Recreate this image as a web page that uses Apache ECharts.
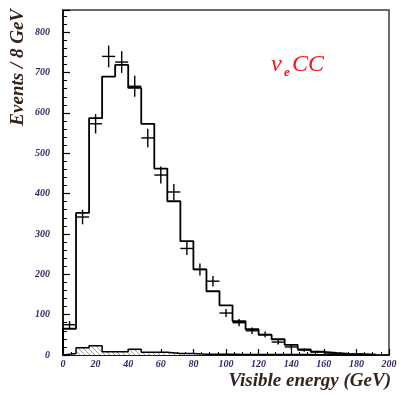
<!DOCTYPE html>
<html>
<head>
<meta charset="utf-8">
<script src="https://cdn.jsdelivr.net/npm/echarts@6/dist/echarts.min.js"></script>
<style>
  html, body { margin: 0; padding: 0; background: #fff; }
  #chart { width: 401px; height: 397px; }
</style>
</head>
<body>
<div id="chart"></div>
<script>
// Visible-energy spectrum of nu_e CC events, 8 GeV bins from 0 to 192 GeV
const binWidth = 8;
const binEdges = [0, 8, 16, 24, 32, 40, 48, 56, 64, 72, 80, 88, 96, 104, 112, 120, 128, 136, 144, 152, 160, 168, 176, 184, 192];

// Expected spectrum (open histogram)
const mcCounts = [65, 352, 587, 690, 719, 662, 573, 462, 381, 282, 212, 158, 123, 84, 64, 50, 39, 25, 14, 8, 5, 3, 2, 1];

// Background component (hatched histogram)
const bkgCounts = [4, 18, 23, 8, 8, 14, 7, 7, 4, 4, 2, 2, 2, 1, 1, 1, 1, 1, 1, 0, 0, 0, 0, 0];

// Measured events with their errors
const dataCounts = [75, 342, 573, 740, 726, 666, 538, 446, 404, 264, 212, 183, 104, 80, 60, 51, 32, 20, 12, 8, 5, 3, 2, 1];
const dataErrors = [9, 18, 24, 27, 27, 26, 23, 21, 20, 16, 15, 13, 10, 9, 8, 7, 6, 5, 4, 3, 2, 2, 1, 1];

const xTicks = [0, 20, 40, 60, 80, 100, 120, 140, 160, 180, 200];
const yTicks = [0, 100, 200, 300, 400, 500, 600, 700, 800];

// Turn bin contents into step vertices (left edge of each bin, closed at both ends)
function stepPoints(counts) {
  const pts = [[binEdges[0], 0]];
  counts.forEach(function (v, i) { pts.push([binEdges[i], v]); });
  pts.push([binEdges[counts.length], 0]);
  return pts;
}

// Diagonal hatch pattern for the background histogram
function hatchPattern() {
  const c = document.createElement('canvas');
  c.width = 5; c.height = 5;
  const g = c.getContext('2d');
  g.fillStyle = '#ffffff';
  g.fillRect(0, 0, 5, 5);
  g.strokeStyle = '#9a9a9a';
  g.lineWidth = 1;
  g.beginPath();
  g.moveTo(-1, -1); g.lineTo(6, 6);
  g.stroke();
  return c;
}

const labelFont = {
  fontFamily: 'Liberation Serif',
  fontStyle: 'italic',
  fontWeight: 'bold',
  fontSize: 10,
  color: '#2a2a62'
};

const titleStyle = {
  fontFamily: 'Liberation Serif', fontStyle: 'italic', fontWeight: 'bold',
  fontSize: 19, fill: '#35221a'
};

const chart = echarts.init(document.getElementById('chart'), null, { renderer: 'canvas' });

chart.setOption({
  animation: false,
  backgroundColor: '#ffffff',
  grid: {
    left: 63, right: 12, top: 10, bottom: 42,
    show: true, borderColor: '#3a3a3a', borderWidth: 1.5, backgroundColor: 'transparent'
  },
  xAxis: {
    type: 'value',
    min: xTicks[0], max: xTicks[xTicks.length - 1], interval: 20,
    axisLine: { lineStyle: { color: '#000', width: 1.5 } },
    axisTick: { inside: true, length: 6, lineStyle: { color: '#000', width: 1.2 } },
    minorTick: { show: true, splitNumber: 4, length: 3, lineStyle: { color: '#000', width: 1 } },
    splitLine: { show: false },
    axisLabel: Object.assign({ margin: 4 }, labelFont)
  },
  yAxis: {
    type: 'value',
    min: yTicks[0], max: 855, interval: 100,
    axisLine: { lineStyle: { color: '#000', width: 1.5 } },
    axisTick: { inside: true, length: 7, lineStyle: { color: '#000', width: 1.2 } },
    minorTick: { show: true, splitNumber: 5, length: 4, lineStyle: { color: '#000', width: 1 } },
    splitLine: { show: false },
    axisLabel: Object.assign({
      margin: 13, showMaxLabel: false,
      formatter: function (v) { return yTicks.indexOf(v) >= 0 ? String(v) : ''; }
    }, labelFont)
  },
  graphic: [
    {
      type: 'text', x: 18, y: 9, rotation: Math.PI / 2,
      style: Object.assign({ text: 'Events / 8 GeV', align: 'right', verticalAlign: 'middle' }, titleStyle)
    },
    {
      type: 'text', x: 391, y: 372,
      style: Object.assign({ text: 'Visible energy (GeV)', align: 'right', verticalAlign: 'top' }, titleStyle)
    },
    {
      type: 'text', x: 271, y: 53,
      style: { text: 'ν', fontFamily: 'Liberation Serif', fontStyle: 'italic', fontSize: 24, fill: '#ff1010' }
    },
    {
      type: 'text', x: 284, y: 66,
      style: { text: 'e', fontFamily: 'Liberation Serif', fontStyle: 'italic', fontWeight: 'bold', fontSize: 13, fill: '#ff1010' }
    },
    {
      type: 'text', x: 292, y: 53,
      style: { text: 'CC', fontFamily: 'Liberation Serif', fontStyle: 'italic', fontSize: 24, fill: '#ff1010' }
    }
  ],
  series: [
    {
      name: 'background',
      type: 'line',
      step: 'end',
      symbol: 'none',
      data: stepPoints(bkgCounts),
      lineStyle: { color: '#000', width: 1.5 },
      areaStyle: { color: { image: hatchPattern(), repeat: 'repeat' }, opacity: 1 },
      z: 2
    },
    {
      name: 'expected',
      type: 'line',
      step: 'end',
      symbol: 'none',
      data: stepPoints(mcCounts),
      lineStyle: { color: '#000', width: 1.8 },
      z: 3
    },
    {
      name: 'data',
      type: 'custom',
      data: dataCounts.map(function (v, i) { return [binEdges[i] + binWidth / 2, v, dataErrors[i]]; }),
      renderItem: function (params, api) {
        const x = api.value(0), y = api.value(1), e = api.value(2);
        const l = api.coord([x - binWidth / 2, y]);
        const r = api.coord([x + binWidth / 2, y]);
        const lo = api.coord([x, Math.max(0, y - e)]);
        const hi = api.coord([x, y + e]);
        const st = { stroke: '#000', lineWidth: 1.4 };
        return {
          type: 'group',
          children: [
            { type: 'line', shape: { x1: l[0], y1: l[1], x2: r[0], y2: r[1] }, style: st },
            { type: 'line', shape: { x1: lo[0], y1: lo[1], x2: hi[0], y2: hi[1] }, style: st }
          ]
        };
      },
      z: 4
    }
  ]
});
</script>
</body>
</html>
